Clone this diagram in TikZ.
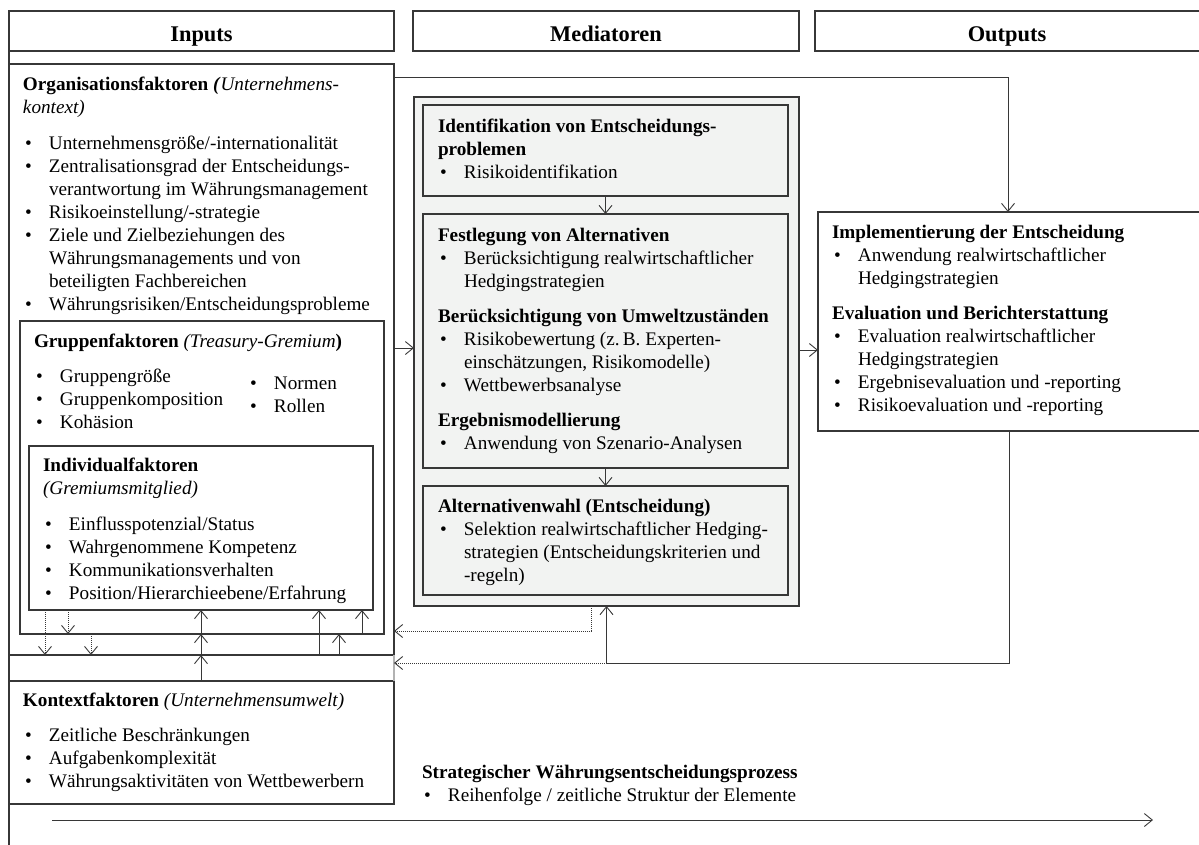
\documentclass[tikz,border=0pt]{standalone}
\usepackage{fontspec}
\setmainfont{Liberation Serif}
\usetikzlibrary{arrows.meta,calc}
\definecolor{lc}{RGB}{55,55,55}
\definecolor{medfill}{RGB}{242,243,242}
\newcommand\bodyfont{\fontsize{19.2}{23}\selectfont}
\newcommand\hdfont{\fontsize{22.4}{26}\selectfont\bfseries}
\newcommand\bl{\makebox[26pt][l]{\hspace{2pt}\textbullet}}
\newcommand\ind{\hspace*{26pt}}
\newcommand\tb[1]{\begin{tabular}[t]{@{}l@{}}#1\end{tabular}}

\begin{document}
\begin{tikzpicture}[x=1pt,y=-1pt,
  box/.style={draw=lc, line width=1.2pt, inner sep=0pt, outer sep=0pt, anchor=north west},
  gbox/.style={box, fill=medfill},
  txt/.style={anchor=base west, inner sep=0pt, outer sep=0pt, font=\bodyfont},
  hd/.style={anchor=base, inner sep=0pt, outer sep=0pt, font=\hdfont},
  arr/.style={draw=lc, line width=0.9pt, -{Straight Barb[length=8pt,width=13pt]}},
  darr/.style={arr, dash pattern=on 1pt off 1pt}]
\useasboundingbox (0,0) rectangle (1199,844);
\clip (0,0) rectangle (1199,844);

% column headers
\node[box, minimum width=385pt, minimum height=40pt] (hin) at (9,11) {};
\node[box, minimum width=386pt, minimum height=40pt] (hmed) at (413,11) {};
\node[box, minimum width=400pt, minimum height=40pt] (hout) at (815,11) {};
\node[hd] (hint) at (201.5,41) {Inputs};
\node[hd] (hmedt) at (606,41) {Mediatoren};
\node[hd] (houtt) at (1007,41) {Outputs};

% inputs column
\draw[lc, line width=1.2pt] (hin.south west) -- ++(0,800);
\node[box, minimum width=385pt, minimum height=591pt] (org) at (9,64) {};
\node[box, minimum width=364pt, minimum height=313pt] (grp) at (20,321) {};
\node[box, minimum width=344pt, minimum height=164pt] (ind) at (29,446) {};
\node[box, minimum width=385pt, minimum height=123pt] (ctx) at (9,681) {};
\draw[gray!60, line width=1.2pt] (org.south east) -- (ctx.north east);

\node[txt] (orgt) at (23,90) {\tb{%
  \textbf{Organisationsfaktoren \textit{(}}\textit{Unternehmens-}\\
  \textit{kontext)}\\[13pt]
  \bl Unternehmensgröße/-internationalität\\
  \bl Zentralisationsgrad der Entscheidungs-\\
  \ind verantwortung im Währungsmanagement\\
  \bl Risikoeinstellung/-strategie\\
  \bl Ziele und Zielbeziehungen des\\
  \ind Währungsmanagements und von\\
  \ind beteiligten Fachbereichen\\
  \bl Währungsrisiken/Entscheidungsprobleme}};

\node[txt] (grpt) at (34,347) {\tb{%
  \textbf{Gruppenfaktoren} \textit{(Treasury-Gremium}\textbf{)}\\[12pt]
  \bl Gruppengröße\\
  \bl Gruppenkomposition\\
  \bl Kohäsion}};
\node[txt] (grpn) at (248,389) {\tb{%
  \bl Normen\\
  \bl Rollen}};

\node[txt] (indt) at (43,471) {\tb{%
  \textbf{Individualfaktoren}\\
  \textit{(Gremiumsmitglied)}\\[13pt]
  \bl Einflusspotenzial/Status\\
  \bl Wahrgenommene Kompetenz\\
  \bl Kommunikationsverhalten\\
  \bl Position/Hierarchieebene/Erfahrung}};

\node[txt] (ctxt) at (23,706) {\tb{%
  \textbf{Kontextfaktoren} \textit{(Unternehmensumwelt)}\\[12pt]
  \bl Zeitliche Beschränkungen\\
  \bl Aufgabenkomplexität\\
  \bl Währungsaktivitäten von Wettbewerbern}};

% mediators column
\node[gbox, minimum width=385pt, minimum height=509pt] (med) at (414,97) {};
\node[gbox, minimum width=365pt, minimum height=91pt] (m1) at (423,105) {};
\node[gbox, minimum width=365pt, minimum height=254pt] (m2) at (423,214) {};
\node[gbox, minimum width=365pt, minimum height=109pt] (m3) at (423,486) {};

\node[txt] (m1t) at (438,132) {\tb{%
  \textbf{Identifikation von Entscheidungs-}\\
  \textbf{problemen}\\
  \bl Risikoidentifikation}};
\node[txt] (m2t) at (438,241) {\tb{%
  \textbf{Festlegung von Alternativen}\\
  \bl Berücksichtigung realwirtschaftlicher\\
  \ind Hedgingstrategien\\[12pt]
  \textbf{Berücksichtigung von Umweltzuständen}\\
  \bl Risikobewertung (z.\,B. Experten-\\
  \ind einschätzungen, Risikomodelle)\\
  \bl Wettbewerbsanalyse\\[12pt]
  \textbf{Ergebnismodellierung}\\
  \bl Anwendung von Szenario-Analysen}};
\node[txt] (m3t) at (438,512) {\tb{%
  \textbf{Alternativenwahl (Entscheidung)}\\
  \bl Selektion realwirtschaftlicher Hedging-\\
  \ind strategien (Entscheidungskriterien und\\
  \ind -regeln)}};

% outputs column
\node[box, minimum width=400pt, minimum height=219pt] (out) at (818,212) {};
\node[txt] (outt) at (832,238) {\tb{%
  \textbf{Implementierung der Entscheidung}\\
  \bl Anwendung realwirtschaftlicher\\
  \ind Hedgingstrategien\\[12pt]
  \textbf{Evaluation und Berichterstattung}\\
  \bl Evaluation realwirtschaftlicher\\
  \ind Hedgingstrategien\\
  \bl Ergebnisevaluation und -reporting\\
  \bl Risikoevaluation und -reporting}};

% process note and time axis
\node[txt] (proc) at (422,778) {\tb{%
  \textbf{Strategischer Währungsentscheidungsprozess}\\
  \bl Reihenfolge / zeitliche Struktur der Elemente}};
\coordinate (t0) at (52,820);
\coordinate (t1) at (1153,820);
\draw[arr] (t0) -- (t1);

% helper levels for connectors
\coordinate (y77) at (0,77);
\coordinate (y348) at (0,348);
\coordinate (y350) at (0,350);
\coordinate (ydt) at (0,631);
\coordinate (yfb) at (0,663);
\coordinate (xa) at (45,0);
\coordinate (xb) at (68,0);
\coordinate (xc) at (91,0);
\coordinate (xd) at (201,0);
\coordinate (xe) at (319,0);
\coordinate (xf) at (339,0);
\coordinate (xg) at (362,0);

% main flow
\draw[arr] (org.east |- y348) -- (med.west |- y348);
\draw[arr] (med.east |- y350) -- (out.west |- y350);
\draw[arr] (org.east |- y77) -| ([xshift=190pt]out.north west);
\draw[arr] (m1.south) -- (m2.north);
\draw[arr] (m2.south) -- (m3.north);

% feedback loops
\draw[arr] ([xshift=191pt]out.south west) |- (med.south |- yfb) -- (med.south);
\draw[darr] (med.south |- yfb) -- (ctx.north east |- yfb);
\draw[darr] ([xshift=-15.5pt]med.south) |- (org.east |- ydt);

% links between the nested input levels
\draw[darr] (ind.south -| xa) -- (org.south -| xa);
\draw[darr] (ind.south -| xb) -- (grp.south -| xb);
\draw[darr] (grp.south -| xc) -- (org.south -| xc);
\draw[arr] (ctx.north -| xd) -- (org.south -| xd);
\draw[arr] (org.south -| xd) -- (grp.south -| xd);
\draw[arr] (grp.south -| xd) -- (ind.south -| xd);
\draw[arr] (org.south -| xe) -- (ind.south -| xe);
\draw[arr] (org.south -| xf) -- (grp.south -| xf);
\draw[arr] (grp.south -| xg) -- (ind.south -| xg);
\end{tikzpicture}
\end{document}
